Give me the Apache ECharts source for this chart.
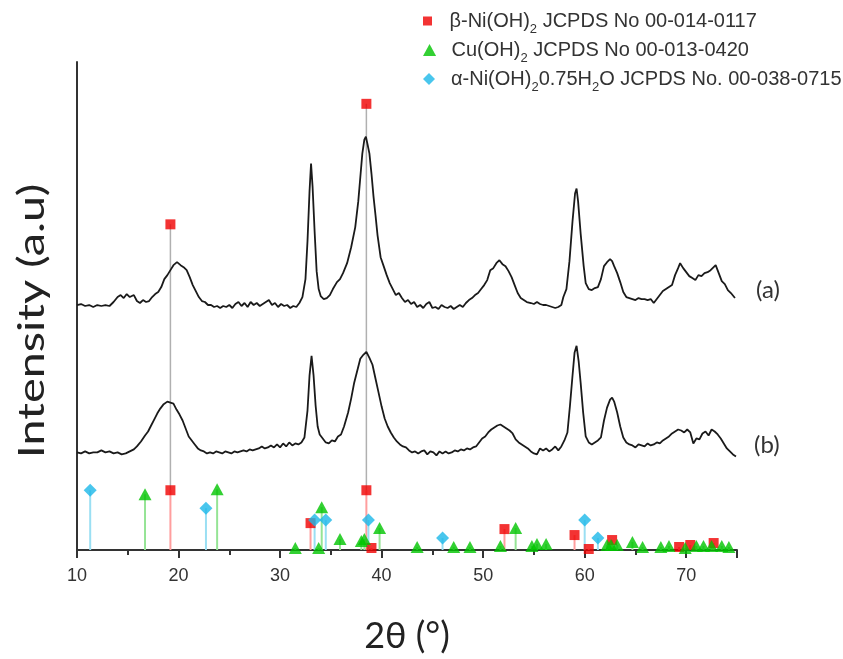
<!DOCTYPE html>
<html>
<head>
<meta charset="utf-8">
<script src="https://cdn.jsdelivr.net/npm/echarts@6/dist/echarts.min.js"></script>
<style>html,body{margin:0;padding:0;background:#fff}#c{width:843px;height:659px}</style>
</head>
<body>
<div id="c"></div>
<script>
// ---- Data (2θ in degrees, intensity in arbitrary units) ----
const curveA = [
[10.0,246],[10.4,247],[10.8,245],[11.2,246],[11.6,244],[12.0,246],[12.4,245],[12.8,246],[13.2,245],[13.6,249],
[14.0,254],[14.3,256],[14.6,253],[14.9,257],[15.2,254],[15.6,256],[15.9,250],[16.2,248],[16.5,251],[16.8,249],
[17.1,250],[17.4,254],[17.7,257],[18.0,259],[18.3,264],[18.6,272],[18.9,276],[19.2,281],[19.5,286],[19.85,289],
[20.2,286],[20.5,284],[20.8,281],[21.1,274],[21.4,266],[21.7,260],[22.0,254],[22.3,250],[22.6,249],[22.9,246],
[23.2,246],[23.5,244],[23.8,245],[24.1,243],[24.4,245],[24.7,244],[25.0,246],[25.3,243],[25.6,247],[25.9,249],
[26.2,245],[26.5,248],[26.8,244],[27.1,249],[27.4,246],[27.7,248],[28.0,245],[28.3,247],[28.6,249],[28.9,251],
[29.2,246],[29.5,248],[29.8,244],[30.1,247],[30.4,245],[30.7,246],[31.0,243],[31.3,245],[31.6,244],[31.9,248],
[32.2,254],[32.5,272],[32.7,310],[32.9,360],[33.05,388],[33.2,365],[33.4,320],[33.6,280],[33.8,262],[34.0,255],
[34.3,252],[34.6,253],[34.9,256],[35.2,262],[35.6,269],[35.9,272],[36.2,278],[36.6,288],[37.0,304],[37.4,324],
[37.7,350],[37.9,374],[38.1,398],[38.3,412],[38.45,415],[38.6,408],[38.8,398],[39.0,378],[39.2,355],[39.4,336],
[39.6,316],[39.9,294],[40.2,285],[40.5,276],[40.8,268],[41.1,262],[41.4,256],[41.7,258],[42.0,253],[42.3,249],
[42.6,251],[42.9,247],[43.2,249],[43.5,244],[43.8,246],[44.1,243],[44.4,247],[44.7,249],[45.0,243],[45.3,244],
[45.6,242],[45.9,246],[46.2,244],[46.5,243],[46.8,245],[47.1,242],[47.4,244],[47.7,246],[48.0,244],[48.3,248],
[48.6,251],[48.9,253],[49.2,256],[49.5,258],[49.8,262],[50.1,266],[50.4,271],[50.7,281],[51.0,283],[51.3,288],
[51.6,291],[51.9,287],[52.2,285],[52.5,280],[52.8,274],[53.1,266],[53.4,258],[53.7,253],[54.0,251],[54.3,249],
[54.7,248],[55.0,247],[55.3,249],[55.6,247],[55.9,246],[56.2,246],[56.5,245],[56.8,244],[57.1,243],[57.4,244],
[57.7,246],[57.9,254],[58.2,262],[58.5,290],[58.8,330],[59.05,358],[59.2,363],[59.35,350],[59.6,318],[59.9,285],
[60.1,268],[60.4,262],[60.7,261],[61.0,263],[61.3,264],[61.6,272],[61.9,285],[62.2,289],[62.5,292],[62.7,290],
[62.9,285],[63.2,278],[63.5,269],[63.8,259],[64.1,254],[64.4,253],[64.7,252],[65.0,251],[65.3,253],[65.6,252],
[65.9,252],[66.2,251],[66.5,252],[66.8,248],[67.1,252],[67.4,256],[67.7,260],[68.0,262],[68.3,264],[68.6,266],
[68.9,276],[69.2,283],[69.4,288],[69.7,283],[70.0,279],[70.3,275],[70.6,273],[70.9,271],[71.2,276],[71.5,275],
[71.8,278],[72.1,279],[72.4,281],[72.7,284],[72.9,286],[73.2,278],[73.5,270],[73.8,267],[74.1,261],[74.4,258],
[74.8,253]
];
const curveB = [
[10.0,98],[10.4,97],[10.8,99],[11.2,97],[11.6,98],[12.0,98],[12.4,100],[12.8,98],[13.2,99],[13.6,97],
[14.0,98],[14.4,96],[14.8,97],[15.2,99],[15.6,101],[15.9,104],[16.3,109],[16.7,115],[17.0,119],[17.3,125],
[17.6,131],[17.9,137],[18.2,142],[18.5,146],[18.9,149],[19.2,148],[19.5,147],[19.8,141],[20.1,136],[20.4,130],
[20.7,122],[21.0,114],[21.3,110],[21.6,106],[21.9,102],[22.2,100],[22.5,99],[22.8,97],[23.1,98],[23.4,97],
[23.7,99],[24.0,98],[24.3,97],[24.6,99],[24.9,98],[25.2,97],[25.5,99],[25.8,98],[26.1,99],[26.4,100],
[26.7,99],[27.0,101],[27.3,100],[27.6,101],[27.9,102],[28.2,104],[28.5,102],[28.8,103],[29.1,105],[29.4,103],
[29.7,106],[30.0,103],[30.3,107],[30.6,104],[30.9,108],[31.2,105],[31.5,107],[31.8,106],[32.1,108],[32.4,113],
[32.7,140],[32.9,175],[33.1,195],[33.3,175],[33.5,145],[33.7,124],[33.9,116],[34.2,112],[34.5,108],[34.8,107],
[35.1,110],[35.4,109],[35.7,114],[36.0,116],[36.3,124],[36.7,138],[37.0,152],[37.3,168],[37.6,180],[37.9,192],
[38.2,196],[38.5,199],[38.8,193],[39.1,186],[39.4,172],[39.7,158],[40.0,144],[40.3,132],[40.6,124],[40.9,118],
[41.2,113],[41.5,109],[41.8,106],[42.1,104],[42.4,103],[42.7,100],[43.0,98],[43.3,99],[43.6,97],[43.9,99],
[44.2,100],[44.5,96],[44.8,99],[45.1,98],[45.4,95],[45.7,99],[46.0,97],[46.3,99],[46.6,97],[46.9,98],
[47.2,100],[47.5,99],[47.8,101],[48.1,100],[48.4,102],[48.7,101],[49.0,103],[49.3,104],[49.6,108],[49.9,112],
[50.2,114],[50.5,118],[50.8,121],[51.1,123],[51.4,125],[51.7,126],[52.0,124],[52.3,122],[52.6,120],[52.9,117],
[53.2,111],[53.5,108],[53.8,106],[54.1,104],[54.4,102],[54.7,99],[55.0,97],[55.3,96],[55.6,102],[55.9,100],
[56.2,102],[56.5,99],[56.8,101],[57.1,104],[57.4,100],[57.7,104],[58.0,110],[58.3,118],[58.55,145],[58.8,175],
[59.0,198],[59.2,205],[59.4,190],[59.6,168],[59.85,138],[60.1,114],[60.4,108],[60.7,106],[61.0,108],[61.3,110],
[61.6,113],[61.9,130],[62.2,143],[62.5,151],[62.7,153],[62.9,149],[63.2,138],[63.5,124],[63.8,113],[64.1,108],
[64.4,106],[64.7,105],[65.0,103],[65.3,106],[65.6,105],[65.9,104],[66.2,107],[66.5,105],[66.8,106],[67.1,108],
[67.4,107],[67.7,110],[68.0,112],[68.3,114],[68.6,117],[68.9,119],[69.2,121],[69.5,120],[69.8,118],[70.1,121],
[70.4,118],[70.7,107],[71.0,112],[71.3,111],[71.6,117],[71.9,119],[72.2,115],[72.5,121],[72.8,119],[73.1,116],
[73.4,112],[73.7,107],[74.0,102],[74.3,99],[74.6,96],[74.9,94]
];

// Reference patterns (stick positions, 2θ) and relative heights
const betaPos = [19.2, 33.0, 38.5, 39.0, 52.1, 59.0, 60.4, 62.7, 69.3, 70.4, 72.7];
const betaInt = [60, 27, 60, 2, 21, 15, 1, 10, 3, 5, 7];
const cuPos = [16.7, 23.8, 31.5, 33.8, 34.1, 35.9, 38.0, 38.3, 39.8, 43.5, 47.1, 48.7, 51.7, 53.2, 54.8, 55.3, 56.2, 62.2, 62.6, 63.2, 64.7, 65.7, 67.5, 68.3, 69.9, 71.0, 71.7, 72.5, 73.5, 74.2];
const cuInt = [56, 61, 2, 2, 43, 11, 9, 11, 22, 3, 3, 3, 4, 22, 4, 6, 6, 5, 5, 5, 8, 3, 3, 4, 2, 4, 4, 4, 4, 3];
const alphaPos = [11.3, 22.7, 33.4, 34.5, 38.7, 46.0, 60.0, 61.3];
const alphaInt = [60, 42, 30, 30, 30, 12, 30, 12];

// Guide lines for beta-Ni(OH)2 main reflections
const guidePos = [19.2, 38.5];
const guideTop = [327, 448];
const guideBottom = [60, 60];

const xTicks = [10, 20, 30, 40, 50, 60, 70];

const betaName = 'β-Ni(OH)2 JCPDS No 00-014-0117';
const cuName = 'Cu(OH)2 JCPDS No 00-013-0420';
const alphaName = 'α-Ni(OH)20.75H2O JCPDS No. 00-038-0715';
const legendRich = {};
legendRich[betaName] = '{n|β-Ni(OH)}{s|2}{n| JCPDS No 00-014-0117}';
legendRich[cuName] = '{n|Cu(OH)}{s|2}{n| JCPDS No 00-013-0420}';
legendRich[alphaName] = '{n|α-Ni(OH)}{s|2}{n|0.75H}{s|2}{n|O JCPDS No. 00-038-0715}';

// ---- Chart ----
const chart = echarts.init(document.getElementById('c'), null, {renderer: 'canvas'});

function stickSeries(pos, ints, color) {
  return {
    type: 'custom', coordinateSystem: 'cartesian2d', silent: true, z: 1,
    data: pos.map((p, i) => [p, ints[i]]),
    encode: {x: 0, y: 1},
    renderItem: function (params, api) {
      const a = api.coord([api.value(0), 0]);
      const b = api.coord([api.value(0), api.value(1)]);
      return {type: 'line', shape: {x1: a[0], y1: a[1], x2: b[0], y2: b[1]},
              style: {stroke: color, lineWidth: 2}};
    }
  };
}

const FONT_A = 'Liberation Sans, Arial, sans-serif';
const FONT_T = 'Lato, Open Sans, sans-serif';
const legendText = {
  fontFamily: FONT_A, fontSize: 20, color: '#333',
  rich: {
    n: {fontFamily: FONT_A, fontSize: 20, color: '#333', lineHeight: 30},
    s: {fontFamily: FONT_A, fontSize: 13, color: '#333', lineHeight: 12, verticalAlign: 'bottom'}
  }
};
function mkLegend(name, icon, h, top) {
  return {
    data: [{name: name, icon: icon}], orient: 'vertical', left: 423, top: top, padding: 0,
    itemWidth: 34, itemHeight: h, selectedMode: false, symbolKeepAspect: true,
    formatter: function (n) { return legendRich[n]; },
    textStyle: legendText
  };
}

const option = {
  backgroundColor: '#fff',
  animation: false,
  grid: {left: 77, right: 106, top: 62, bottom: 108},
  legend: [
    mkLegend(betaName, 'path://M0,0h10v10h-10z', 9, 11),
    mkLegend(cuName, 'path://M6,0L12,11L0,11Z', 12, 40),
    mkLegend(alphaName, 'path://M6,0L12,6L6,12L0,6Z', 12, 69)
  ],
  graphic: [{
    type: 'text', x: 32, y: 321, rotation: Math.PI / 2, scaleX: 1.3, silent: true, z: 10,
    style: {text: 'Intensity (a.u)', fontFamily: FONT_T, fontSize: 36, fill: '#222', align: 'center', verticalAlign: 'middle'}
  }],
  xAxis: {
    type: 'value', min: 10, max: 75, interval: 10,
    name: '2θ (°)', nameLocation: 'middle', nameGap: 68,
    nameTextStyle: {fontFamily: FONT_T, fontSize: 36, color: '#222', padding: [0, 0, 0, 0]},
    axisLine: {show: true, onZero: false, lineStyle: {color: '#333', width: 2}},
    axisTick: {show: true, inside: false, length: 8, lineStyle: {color: '#333', width: 2}},
    minorTick: {show: true, splitNumber: 2, length: 5, lineStyle: {color: '#333', width: 2}},
    axisLabel: {show: true, margin: 17, fontFamily: FONT_A, fontSize: 18, color: '#333',
                showMaxLabel: false,
                formatter: function (v) { return xTicks.indexOf(v) >= 0 ? String(v) : ''; }},
    splitLine: {show: false}
  },
  yAxis: {
    type: 'value', min: 0, max: 490,
    axisLine: {show: true, lineStyle: {color: '#333', width: 2}},
    axisTick: {show: false}, axisLabel: {show: false}, splitLine: {show: false}
  },
  series: [
    stickSeries(betaPos, betaInt, '#ff9e9e'),
    stickSeries(cuPos, cuInt, '#95e495'),
    stickSeries(alphaPos, alphaInt, '#9adff3'),
    {
      type: 'custom', coordinateSystem: 'cartesian2d', silent: true, z: 1,
      data: guidePos.map((p, i) => [p, guideBottom[i], guideTop[i]]),
      encode: {x: 0, y: [1, 2]},
      renderItem: function (params, api) {
        const a = api.coord([api.value(0), api.value(1)]);
        const b = api.coord([api.value(0), api.value(2)]);
        return {type: 'line', shape: {x1: a[0], y1: a[1], x2: b[0], y2: b[1]},
                style: {stroke: '#b0b0b0', lineWidth: 1.5}};
      }
    },
    {
      name: 'a', type: 'line', data: curveA, showSymbol: false, symbol: 'none', z: 3,
      lineStyle: {color: '#1a1a1a', width: 1.8},
      endLabel: {show: true, formatter: '(a)', distance: 21, offset: [0, -8],
                 fontFamily: FONT_T, fontSize: 24, color: '#333'}
    },
    {
      name: 'b', type: 'line', data: curveB, showSymbol: false, symbol: 'none', z: 3,
      lineStyle: {color: '#1a1a1a', width: 1.8},
      endLabel: {show: true, formatter: '(b)', distance: 18, offset: [0, -11],
                 fontFamily: FONT_T, fontSize: 24, color: '#333'}
    },
    {
      name: betaName, type: 'scatter', symbol: 'rect', symbolSize: 10, z: 5,
      itemStyle: {color: '#f00000'},
      data: betaPos.map((p, i) => [p, betaInt[i]]).concat(guidePos.map((p, i) => [p, guideTop[i]]))
    },
    {
      name: cuName, type: 'scatter', symbol: 'triangle', symbolSize: [13, 12], z: 5,
      itemStyle: {color: '#00c400'},
      data: cuPos.map((p, i) => [p, cuInt[i]])
    },
    {
      name: alphaName, type: 'scatter', symbol: 'diamond', symbolSize: [13, 13], z: 5,
      itemStyle: {color: '#1cb8e8'},
      data: alphaPos.map((p, i) => [p, alphaInt[i]])
    }
  ]
};
chart.setOption(option);
</script>
</body>
</html>
